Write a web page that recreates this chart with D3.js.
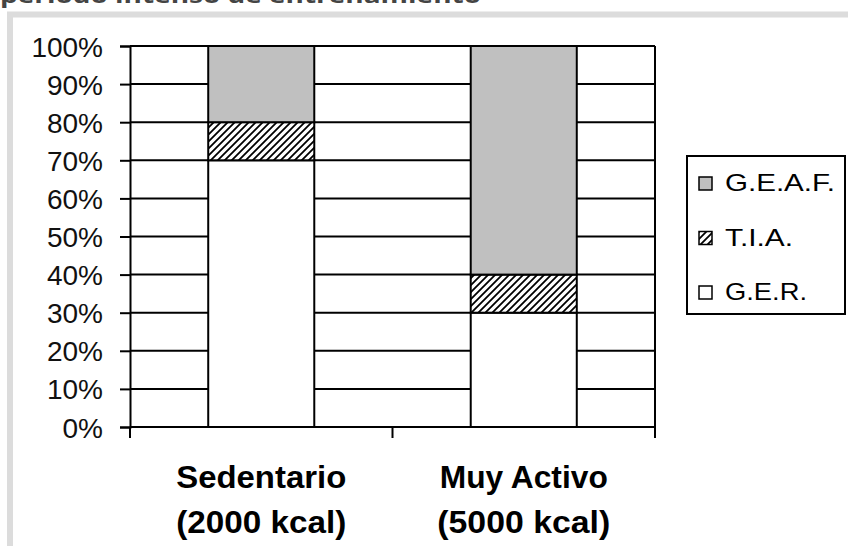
<!DOCTYPE html>
<html>
<head>
<meta charset="utf-8">
<script src="https://cdn.jsdelivr.net/npm/d3@7"></script>
<style>
  html, body { margin: 0; padding: 0; background: #fff; }
  svg { display: block; }
</style>
</head>
<body>
<svg id="chart" width="848" height="546"></svg>
<script>
// Energy expenditure breakdown (%), stacked per activity level
const categories = ["Sedentario", "Muy Activo"];
const subLabels = ["(2000 kcal)", "(5000 kcal)"];
const series = ["G.E.R.", "T.I.A.", "G.E.A.F."];
const gerValues = [70, 30];
const tiaValues = [10, 10];
const geafValues = [20, 60];
const yTickValues = [0, 10, 20, 30, 40, 50, 60, 70, 80, 90, 100];
const legendOrder = ["G.E.A.F.", "T.I.A.", "G.E.R."];

const svg = d3.select("#chart");

// hatch pattern for T.I.A.
const defs = svg.append("defs");
const pat = defs.append("pattern")
  .attr("id", "hatch")
  .attr("patternUnits", "userSpaceOnUse")
  .attr("width", 7).attr("height", 7);
pat.append("rect").attr("width", 7).attr("height", 7).attr("fill", "#fff");
pat.append("path")
  .attr("d", "M-1,8 L8,-1 M-2,2 L2,-2 M5,9 L9,5")
  .attr("stroke", "#000").attr("stroke-width", 1.8);

// title (partly above the page edge)
svg.append("text")
  .attr("x", 0).attr("y", 3)
  .attr("font-family", "'Open Sans', sans-serif")
  .attr("font-weight", "bold")
  .attr("font-size", 22)
  .attr("fill", "#444")
  .attr("textLength", 481)
  .attr("lengthAdjust", "spacingAndGlyphs")
  .text("periodo intenso de entrenamiento");

// light grey frame
svg.append("rect")
  .attr("x", 10).attr("y", 14.5)
  .attr("width", 900).attr("height", 600)
  .attr("fill", "none")
  .attr("stroke", "#dcdcdc")
  .attr("stroke-width", 6);

const plotLeft = 130, plotRight = 655, plotTop = 46, plotBottom = 427;

const y = d3.scaleLinear().domain([0, 100]).range([plotBottom, plotTop]);
const x = d3.scaleBand().domain(categories).range([plotLeft, plotRight])
  .paddingInner(0.596).paddingOuter(0.298);

const stackData = categories.map((c, i) => ({
  cat: c, "G.E.R.": gerValues[i], "T.I.A.": tiaValues[i], "G.E.A.F.": geafValues[i]
}));
const stacked = d3.stack().keys(series)(stackData);
const fills = { "G.E.R.": "#ffffff", "T.I.A.": "url(#hatch)", "G.E.A.F.": "#c0c0c0" };

// horizontal gridlines
svg.append("g").selectAll("line")
  .data(yTickValues)
  .join("line")
  .attr("x1", plotLeft).attr("x2", plotRight)
  .attr("y1", d => y(d)).attr("y2", d => y(d))
  .attr("stroke", "#000").attr("stroke-width", 2);

// right border of plot area
svg.append("line")
  .attr("x1", plotRight).attr("x2", plotRight)
  .attr("y1", plotTop).attr("y2", plotBottom)
  .attr("stroke", "#000").attr("stroke-width", 2);

// stacked bars
svg.append("g").selectAll("g")
  .data(stacked)
  .join("g")
  .attr("fill", d => fills[d.key])
  .selectAll("rect")
  .data(d => d)
  .join("rect")
  .attr("x", d => x(d.data.cat))
  .attr("width", x.bandwidth())
  .attr("y", d => y(d[1]))
  .attr("height", d => y(d[0]) - y(d[1]))
  .attr("stroke", "#000")
  .attr("stroke-width", 2);

// y axis
const yAxis = svg.append("g")
  .attr("transform", `translate(${plotLeft},0)`)
  .call(d3.axisLeft(y).tickValues(yTickValues).tickFormat(d => d + "%").tickSize(10).tickPadding(17));
yAxis.select(".domain").attr("stroke", "#000").attr("stroke-width", 2);
yAxis.selectAll(".tick line").attr("stroke", "#000").attr("stroke-width", 2);
yAxis.selectAll(".tick text")
  .attr("font-family", "'Liberation Sans', Arial, sans-serif")
  .attr("font-size", 28)
  .attr("fill", "#111")
  .attr("dy", "0.36em");

// x axis with ticks at category boundaries
const boundaries = d3.range(categories.length + 1).map(i => plotLeft + i * x.step());
svg.append("line")
  .attr("x1", plotLeft).attr("x2", plotRight)
  .attr("y1", plotBottom).attr("y2", plotBottom)
  .attr("stroke", "#000").attr("stroke-width", 2);
svg.append("g").selectAll("line")
  .data(boundaries)
  .join("line")
  .attr("x1", d => d).attr("x2", d => d)
  .attr("y1", plotBottom).attr("y2", plotBottom + 11)
  .attr("stroke", "#000").attr("stroke-width", 2);

// category labels
const catWidths = [170, 168];
const subWidths = [170, 173];
const labels = svg.append("g")
  .attr("font-family", "'Liberation Sans', Arial, sans-serif")
  .attr("font-weight", "bold")
  .attr("font-size", 32)
  .attr("fill", "#000")
  .attr("text-anchor", "middle");
categories.forEach((c, i) => {
  const cx = x(c) + x.bandwidth() / 2;
  labels.append("text").attr("x", cx).attr("y", 488)
    .attr("textLength", catWidths[i]).attr("lengthAdjust", "spacingAndGlyphs")
    .text(c);
  labels.append("text").attr("x", cx).attr("y", 533)
    .attr("textLength", subWidths[i]).attr("lengthAdjust", "spacingAndGlyphs")
    .text(subLabels[i]);
});

// legend
const legend = svg.append("g");
legend.append("rect")
  .attr("x", 687).attr("y", 156)
  .attr("width", 158).attr("height", 158)
  .attr("fill", "#fff").attr("stroke", "#000").attr("stroke-width", 2);
const legendWidths = { "G.E.A.F.": 110, "T.I.A.": 68, "G.E.R.": 82 };
legendOrder.forEach((k, i) => {
  const by = 191 + i * 54.5;
  legend.append("rect")
    .attr("x", 699).attr("y", by - 14)
    .attr("width", 13).attr("height", 13)
    .attr("fill", fills[k]).attr("stroke", "#000").attr("stroke-width", 1.5);
  legend.append("text")
    .attr("x", 725).attr("y", by)
    .attr("font-family", "'Liberation Sans', Arial, sans-serif")
    .attr("font-size", 24)
    .attr("fill", "#000")
    .attr("textLength", legendWidths[k]).attr("lengthAdjust", "spacingAndGlyphs")
    .text(k);
});
</script>
</body>
</html>
